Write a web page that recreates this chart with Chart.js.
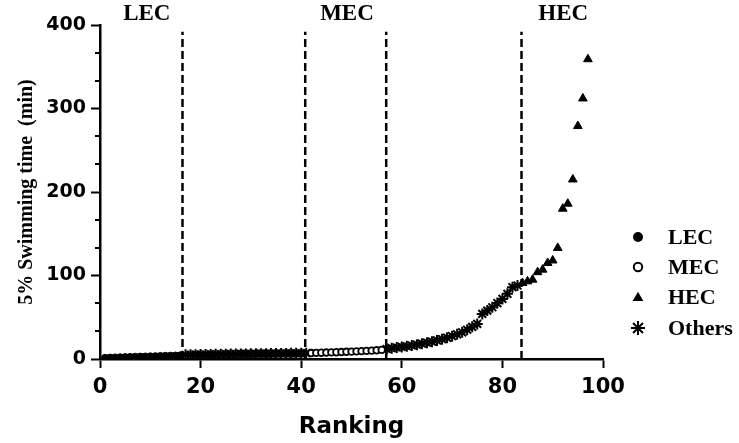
<!DOCTYPE html>
<html>
<head>
<meta charset="utf-8">
<script src="https://cdn.jsdelivr.net/npm/chart.js@4/dist/chart.umd.min.js"></script>
<style>
html,body{margin:0;padding:0;background:#fff;}
canvas{display:block;}
</style>
</head>
<body>
<canvas id="c" width="739" height="443"></canvas>
<script>
// ---- data ----
const lecStart = 1;
const lecValues = [1.4, 1.7, 1.9, 2.1, 2.3, 2.5, 2.7, 2.9, 3.0, 3.2, 3.4, 3.6, 3.8, 4.0, 4.2, 4.5];
const othersLowStart = 17;
const othersLowValues = [5.0, 5.1, 5.2, 5.3, 5.4, 5.5, 5.6, 5.7, 5.8, 5.9, 6.0, 6.1, 6.1, 6.2, 6.3, 6.4, 6.4, 6.5, 6.6, 6.6, 6.7, 6.8, 6.8, 6.9, 7.0];
const mecStart = 42;
const mecValues = [7.1, 7.3, 7.5, 7.7, 7.9, 8.1, 8.3, 8.6, 8.8, 9.1, 9.4, 9.7, 10.0, 10.4, 10.9];
const othersHighStart = 57;
const othersHighValues = [12, 13, 13.8, 14.5, 15.3, 16.2, 17.2, 18.3, 19.5, 20.8, 22.2, 23.8, 25.5, 27.3, 29.5, 32, 35, 38.5, 42, 54, 58, 62, 67, 72, 78, 86, 88];
const hecStart = 84;
const hecValues = [91, 93, 95, 104, 107, 115, 118, 133, 180, 186, 215, 279, 312, 359];

const dividerRanks = [16.4, 40.8, 56.9, 83.8];
const dividerTop = 392;
const groupLabels = ['LEC', 'MEC', 'HEC'];
const groupLabelRanks = [9.3, 49.1, 92.1];
const xTicks = [0, 20, 40, 60, 80, 100];
const yTicks = [0, 100, 200, 300, 400];
const yMinorTicks = [33.33, 66.67, 133.33, 166.67, 233.33, 266.67, 333.33, 366.67];
const legendLabels = ['LEC', 'MEC', 'HEC', 'Others'];
const xTitle = 'Ranking';
const yTitle = '5% Swimming time  (min)';

// ---- build ----
const toPoints = (start, vals) => vals.map((v, i) => ({x: start + i, y: v}));

const datasets = [
  {label: 'LEC', data: toPoints(lecStart, lecValues), pointStyle: 'circle', pointRadius: 3.5,
   pointBackgroundColor: '#000', pointBorderColor: '#000', pointBorderWidth: 1, showLine: false, order: 0},
  {label: 'MEC', data: toPoints(mecStart, mecValues), pointStyle: 'circle', pointRadius: 3.3,
   pointBackgroundColor: '#fff', pointBorderColor: '#000', pointBorderWidth: 1.8, showLine: false, order: 0},
  {label: 'HEC', data: toPoints(hecStart, hecValues), pointStyle: 'triangle', pointRadius: 5,
   pointBackgroundColor: '#000', pointBorderColor: '#000', pointBorderWidth: 1, showLine: false, order: 0},
  {label: 'Others', data: toPoints(othersLowStart, othersLowValues).concat(toPoints(othersHighStart, othersHighValues)),
   pointStyle: 'star', pointRadius: 5.5, pointBackgroundColor: '#000', pointBorderColor: '#000', pointBorderWidth: 2,
   showLine: false, order: 0}
];
dividerRanks.forEach(r => {
  datasets.push({label: '', data: [{x: r, y: 0}, {x: r, y: dividerTop}], showLine: true,
    borderColor: '#000', borderWidth: 2.5, borderDash: [8, 4], pointRadius: 0, order: 10});
});

const decor = {
  id: 'decor',
  afterDraw(chart) {
    const {ctx, chartArea} = chart;
    const xs = chart.scales.x, ys = chart.scales.y;
    ctx.save();
    // minor ticks on y axis
    ctx.strokeStyle = '#000';
    ctx.lineWidth = 2;
    yMinorTicks.forEach(v => {
      const py = Math.round(ys.getPixelForValue(v));
      ctx.beginPath();
      ctx.moveTo(chartArea.left - 5, py);
      ctx.lineTo(chartArea.left, py);
      ctx.stroke();
    });
    // group labels
    ctx.fillStyle = '#000';
    ctx.font = 'bold 23px "Liberation Serif"';
    ctx.textAlign = 'center';
    ctx.textBaseline = 'middle';
    groupLabels.forEach((t, i) => ctx.fillText(t, xs.getPixelForValue(groupLabelRanks[i]), 14));
    // legend
    const lx = chartArea.right + 35, tx = chartArea.right + 65;
    const rows = [237, 267, 297, 328];
    legendLabels.forEach((t, i) => {
      const cy = rows[i];
      ctx.fillStyle = '#000';
      ctx.strokeStyle = '#000';
      if (i === 0) {
        ctx.beginPath(); ctx.arc(lx, cy, 5, 0, Math.PI * 2); ctx.fill();
      } else if (i === 1) {
        ctx.lineWidth = 2;
        ctx.beginPath(); ctx.arc(lx, cy, 4.2, 0, Math.PI * 2); ctx.fillStyle = '#fff'; ctx.fill(); ctx.stroke();
        ctx.fillStyle = '#000';
      } else if (i === 2) {
        const r = 6.2;
        ctx.beginPath();
        for (let k = 0; k < 3; k++) {
          const a = k * 2 * Math.PI / 3;
          const px = lx + Math.sin(a) * r, py = cy + 1 - Math.cos(a) * r;
          if (k === 0) ctx.moveTo(px, py); else ctx.lineTo(px, py);
        }
        ctx.closePath(); ctx.fill();
      } else {
        const r = 7;
        ctx.lineWidth = 2;
        ctx.beginPath();
        for (let k = 0; k < 4; k++) {
          const a = k * Math.PI / 4;
          ctx.moveTo(lx + Math.cos(a) * r, cy + Math.sin(a) * r);
          ctx.lineTo(lx - Math.cos(a) * r, cy - Math.sin(a) * r);
        }
        ctx.stroke();
      }
      ctx.fillStyle = '#000';
      ctx.font = 'bold 22px "Liberation Serif"';
      ctx.textAlign = 'left';
      ctx.textBaseline = 'middle';
      ctx.fillText(t, tx, cy + 1);
    });
    ctx.restore();
  }
};

new Chart(document.getElementById('c'), {
  type: 'scatter',
  data: {datasets},
  plugins: [decor],
  options: {
    responsive: false,
    animation: false,
    devicePixelRatio: 1,
    layout: {padding: {left: 0, top: 25, right: 136, bottom: 0}},
    plugins: {legend: {display: false}, tooltip: {enabled: false}},
    scales: {
      x: {
        type: 'linear', min: 0, max: 100,
        afterBuildTicks: s => { s.ticks = xTicks.map(v => ({value: v})); },
        afterFit: s => { s.height = 84; },
        grid: {display: true, drawOnChartArea: false, drawTicks: true, tickLength: 9, tickWidth: 2, tickColor: '#000'},
        border: {display: true, color: '#000', width: 2.5},
        ticks: {color: '#000', font: {family: 'DejaVu Sans', weight: 'bold', size: 21}, padding: 7, maxRotation: 0, autoSkip: false},
        title: {display: true, text: xTitle, color: '#000', font: {family: 'DejaVu Sans', weight: 'bold', size: 23}, padding: {top: 0, bottom: 2}}
      },
      y: {
        type: 'linear', min: 0, max: 400,
        afterBuildTicks: s => { s.ticks = yTicks.map(v => ({value: v})); },
        afterFit: s => { s.width = 100; },
        grid: {display: true, drawOnChartArea: false, drawTicks: true, tickLength: 9, tickWidth: 2, tickColor: '#000'},
        border: {display: true, color: '#000', width: 2.5},
        ticks: {color: '#000', font: {family: 'DejaVu Sans', weight: 'bold', size: 19}, padding: 5, autoSkip: false},
        title: {display: true, text: yTitle, color: '#000', font: {family: 'Liberation Serif', weight: 'bold', size: 20}, padding: {top: 15, bottom: 0}}
      }
    }
  }
});
</script>
</body>
</html>
